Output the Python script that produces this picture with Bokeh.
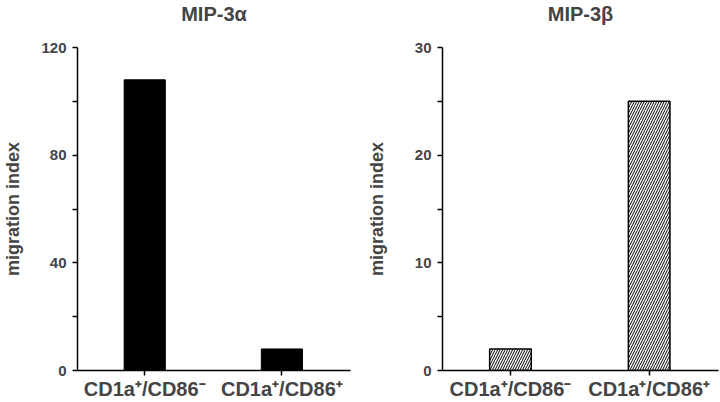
from bokeh.plotting import figure
from bokeh.layouts import row
from bokeh.models import Range1d, FixedTicker, ColumnDataSource, Title
from bokeh.embed import file_html
from bokeh.resources import INLINE

# ---- data ----
categories = ["CD1a\u207a/CD86\u207b", "CD1a\u207a/CD86\u207a"]
mip3a_values = [108, 8]
mip3b_values = [2, 25]
titles = ["MIP-3\u03b1", "MIP-3\u03b2"]
ylabel = "migration index"
left_ticks = [0, 40, 80, 120]
left_minor = [20, 60, 100]
right_ticks = [0, 10, 20, 30]
right_minor = [5, 15, 25]

FONT = "Liberation Sans"
X0, X1 = -0.49, 1.5


def make_panel(title, values, ticks, minor, ymax, width, border_left, border_right, label_standoff, hatched):
    xs = list(range(len(categories)))
    src = ColumnDataSource(dict(x=xs, top=values))
    p = figure(width=width, height=402, output_backend="svg", toolbar_location=None,
               x_range=Range1d(X0, X1), y_range=Range1d(0, ymax),
               min_border_left=border_left, min_border_right=border_right,
               min_border_top=47, min_border_bottom=32)
    # spacer between title and frame, then the title itself (outermost)
    p.add_layout(Title(text=" ", text_font_size="10px", standoff=10), "above")
    p.add_layout(Title(text=title, align="center", text_font=FONT,
                       text_font_size="20px", text_font_style="bold", standoff=0), "above")
    p.outline_line_color = None
    p.xgrid.visible = False
    p.ygrid.visible = False
    p.background_fill_color = "white"
    p.border_fill_color = "white"

    if hatched:
        p.vbar(x="x", top="top", width=0.30, source=src, fill_color="white",
               line_color="black", line_width=1.5,
               hatch_pattern="/", hatch_color="black", hatch_scale=5, hatch_weight=1)
    else:
        p.vbar(x="x", top="top", width=0.30, source=src, fill_color="black",
               line_color="black", line_width=1)

    xa = p.xaxis[0]
    xa.ticker = FixedTicker(ticks=xs)
    xa.major_label_overrides = {i: c for i, c in zip(xs, categories)}
    xa.major_label_text_font = FONT
    xa.major_label_text_font_size = "20px"
    xa.major_label_text_font_style = "bold"
    xa.major_label_standoff = 2
    xa.major_tick_out = 5
    xa.major_tick_in = 0
    xa.minor_tick_line_color = None
    xa.axis_line_width = 1.5
    xa.major_tick_line_width = 1.5

    ya = p.yaxis[0]
    ya.ticker = FixedTicker(ticks=ticks, minor_ticks=minor)
    ya.major_label_text_font = FONT
    ya.major_label_text_font_size = "15px"
    ya.major_label_text_font_style = "bold"
    ya.major_label_standoff = 6
    ya.major_tick_out = 5
    ya.major_tick_in = 0
    ya.minor_tick_out = 5
    ya.minor_tick_in = 0
    ya.axis_line_width = 1.5
    ya.major_tick_line_width = 1.5
    ya.minor_tick_line_width = 1.5
    ya.axis_label = ylabel
    ya.axis_label_text_font = FONT
    ya.axis_label_text_font_size = "18px"
    ya.axis_label_text_font_style = "bold"
    ya.axis_label_standoff = label_standoff
    return p


p1 = make_panel(titles[0], mip3a_values, left_ticks, left_minor, 120,
                360, 76, 10, 15, False)
p2 = make_panel(titles[1], mip3b_values, right_ticks, right_minor, 30,
                360, 82, 2, 25, True)

layout = row(p1, p2)
open("out.html", "w").write(file_html(layout, INLINE))
